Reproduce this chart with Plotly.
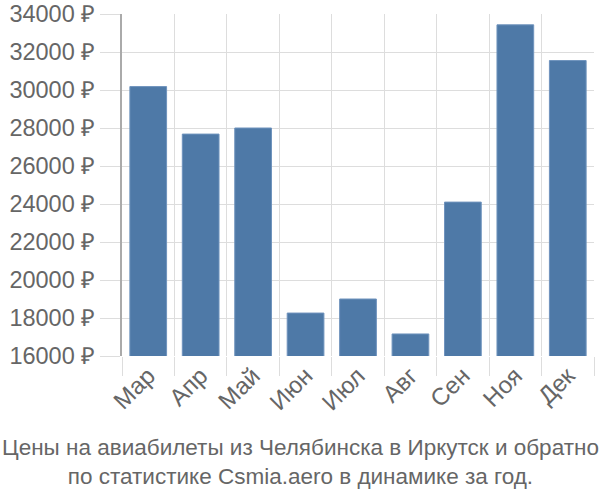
import plotly.graph_objects as go

months = ["Мар", "Апр", "Май", "Июн", "Июл", "Авг", "Сен", "Ноя", "Дек"]
prices = [30180, 27680, 28000, 18260, 19000, 17160, 24100, 33430, 31550]
y_ticks = [16000, 18000, 20000, 22000, 24000, 26000, 28000, 30000, 32000, 34000]
title_lines = ["Цены на авиабилеты из Челябинска в Иркутск и обратно",
               "по статистике Csmia.aero в динамике за год."]

font_family = "Liberation Sans, Arial, sans-serif"

fig = go.Figure(go.Bar(
    x=months, y=prices,
    marker=dict(color="#4e79a7", line=dict(color="#6f93bd", width=1)),
    width=0.7,
))

fig.update_layout(
    width=600, height=500,
    margin=dict(l=122, r=6, t=14, b=144),
    paper_bgcolor="white", plot_bgcolor="white",
    showlegend=False,
    font=dict(family=font_family, size=22, color="#666666"),
    xaxis=dict(
        type="category", tickson="boundaries", automargin=False,
        showgrid=True, gridcolor="#dddddd", gridwidth=1,
        ticks="outside", ticklen=19, tickcolor="#dddddd",
        tickangle=-45, tickfont=dict(size=24, color="#666666"),
        showline=False, zeroline=False,
        range=[-0.5, 8.5],
    ),
    yaxis=dict(
        range=[16000, 34000], tickvals=y_ticks, automargin=False,
        ticktext=[f"{v} ₽" for v in y_ticks],
        showgrid=True, gridcolor="#dddddd", gridwidth=1,
        ticks="outside", ticklen=20, tickcolor="#dddddd",
        showline=True, linecolor="#aaaaaa", linewidth=2,
        zeroline=False, tickfont=dict(size=23.5, color="#666666"),
    ),
    annotations=[dict(
        text="<br>".join(title_lines), x=(300 - 122) / 472, y=-0.31,
        xref="paper", yref="paper",
        xanchor="center", yanchor="middle", showarrow=False,
        font=dict(size=22.5, color="#666666", family=font_family),
    )],
)

fig.write_html("out.html")
